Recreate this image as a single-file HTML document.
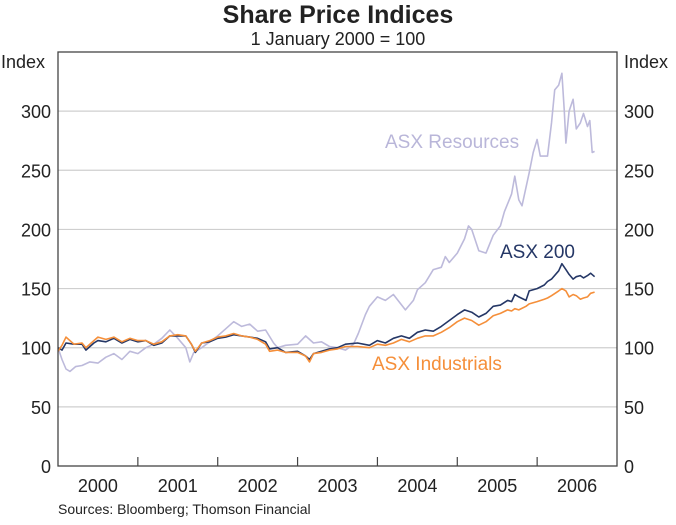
<!DOCTYPE html>
<html><head><meta charset="utf-8"><style>
body{margin:0;background:#fff;font-family:"Liberation Sans",Arial,sans-serif}
svg text{font-family:"Liberation Sans",Arial,sans-serif}
</style></head><body>
<svg id="chart" width="676" height="520" viewBox="0 0 676 520" xmlns="http://www.w3.org/2000/svg">
<text x="338" y="23" text-anchor="middle" font-size="25" font-weight="bold" fill="#222">Share Price Indices</text>
<text x="338" y="45" text-anchor="middle" font-size="18" fill="#222">1 January 2000 = 100</text>
<text x="1" y="68" font-size="18" fill="#222">Index</text>
<text x="624" y="68" font-size="18" fill="#222">Index</text>
<g id="grid"></g><g id="series"></g><g id="axes"></g>
<text x="385" y="148" font-size="19" fill="#b9b6d9">ASX Resources</text>
<text x="500" y="258" font-size="19" fill="#253766">ASX 200</text>
<text x="372" y="370" font-size="19" fill="#f58f3a">ASX Industrials</text>
<text x="58" y="514" font-size="14" fill="#222">Sources: Bloomberg; Thomson Financial</text>
</svg>
<script>
const yTicks=[0,50,100,150,200,250,300];
const years=["2000","2001","2002","2003","2004","2005","2006"];
const resT=[0,0.05,0.1,0.15,0.22,0.3,0.4,0.5,0.6,0.7,0.8,0.9,1.0,1.1,1.2,1.3,1.4,1.5,1.6,1.65,1.7,1.8,1.9,2.0,2.1,2.2,2.3,2.4,2.5,2.6,2.7,2.75,2.85,3.0,3.1,3.2,3.3,3.4,3.5,3.6,3.7,3.76,3.85,3.9,4.0,4.1,4.2,4.35,4.45,4.5,4.6,4.7,4.8,4.85,4.9,5.0,5.09,5.14,5.18,5.27,5.36,5.45,5.54,5.59,5.65,5.68,5.72,5.77,5.81,5.9,5.95,6.0,6.04,6.13,6.18,6.22,6.27,6.31,6.34,6.36,6.4,6.45,6.49,6.54,6.58,6.63,6.66,6.69,6.72];
const resV=[100,90,82,80,84,85,88,87,92,95,90,97,95,100,103,108,115,108,100,88,96,100,105,110,116,122,118,120,114,115,104,100,102,103,110,104,105,101,100,98,103,112,128,135,143,140,145,132,140,149,155,166,168,177,172,180,192,203,200,182,180,195,203,215,225,230,245,225,220,248,265,276,262,262,290,318,322,332,300,273,300,310,285,290,298,287,292,265,266];
const a200T=[0,0.05,0.1,0.2,0.3,0.35,0.45,0.5,0.6,0.7,0.8,0.9,1.0,1.1,1.2,1.3,1.4,1.5,1.6,1.67,1.72,1.8,1.9,2.0,2.1,2.2,2.3,2.4,2.5,2.6,2.65,2.75,2.85,3.0,3.1,3.15,3.2,3.3,3.4,3.5,3.6,3.75,3.9,4.0,4.1,4.2,4.3,4.4,4.5,4.6,4.7,4.8,4.9,5.0,5.09,5.18,5.27,5.36,5.45,5.54,5.63,5.68,5.72,5.77,5.86,5.9,6.0,6.09,6.13,6.18,6.27,6.31,6.36,6.4,6.45,6.49,6.54,6.58,6.63,6.67,6.72];
const a200V=[100,98,104,103,103,98,104,106,105,108,104,107,105,106,102,104,110,110,110,103,96,104,105,108,109,111,110,109,108,105,99,100,96,97,93,90,95,97,99,100,103,104,102,106,104,108,110,108,113,115,114,118,123,128,132,130,126,129,135,136,140,139,145,143,140,148,150,153,156,158,165,171,166,162,158,160,161,159,161,163,160];
const indT=a200T.slice();
const indV=[97,102,109,103,104,100,106,109,107,109,105,108,106,106,103,105,110,111,110,103,97,104,106,109,110,112,110,109,107,103,97,98,96,96,93,88,95,96,98,99,101,101,100,103,102,104,107,105,108,110,110,113,117,122,125,123,119,122,127,129,132,131,133,132,135,137,139,141,142,144,148,150,148,143,145,144,141,142,143,146,147];
const L=58,R=617,T=52,B=466,YMAX=350;
const xs=t=>L+t*(R-L)/7, ys=v=>B-v*(B-T)/YMAX;
const NS="http://www.w3.org/2000/svg";
function mk(tag,attrs,parent){const e=document.createElementNS(NS,tag);for(const k in attrs)e.setAttribute(k,attrs[k]);parent.appendChild(e);return e;}
const grid=document.getElementById('grid'),axes=document.getElementById('axes'),ser=document.getElementById('series');
yTicks.forEach(v=>{
 if(v>0){const g=mk('line',{x1:L,x2:R,y1:ys(v),y2:ys(v),stroke:'#cfcfcf','stroke-width':1.2},grid);
 
 }
 const a=mk('text',{x:L-7,y:ys(v)+7,'text-anchor':'end','font-size':18,fill:'#222'},axes);a.textContent=v;
 
 
 const b=mk('text',{x:R+7,y:ys(v)+7,'font-size':18,fill:'#222'},axes);b.textContent=v;
 
 
});
years.forEach((y,i)=>{
 if(i>0){const t=mk('line',{x1:xs(i),x2:xs(i),y1:B,y2:B-9,stroke:'#444','stroke-width':1.2},axes);
 
 }
 const tx=mk('text',{x:xs(i+0.5),y:B+26,'text-anchor':'middle','font-size':18,fill:'#222'},axes);tx.textContent=y;
 
 
});
const fr=mk('rect',{x:L,y:T,width:R-L,height:B-T,fill:'none',stroke:'#444','stroke-width':1.3},axes);


function line(T_,V_,col,name){
 const d=T_.map((t,i)=>(i?'L':'M')+xs(t).toFixed(1)+','+ys(V_[i]).toFixed(1)).join('');
 const p=mk('path',{d:d,fill:'none',stroke:col,'stroke-width':1.6,'stroke-linejoin':'round'},ser);
 
 
}
line(resT,resV,'#bdbadb','line-asx-resources');
line(a200T,a200V,'#253766','line-asx-200');
line(indT,indV,'#f58f3a','line-asx-industrials');
</script>
</body></html>
